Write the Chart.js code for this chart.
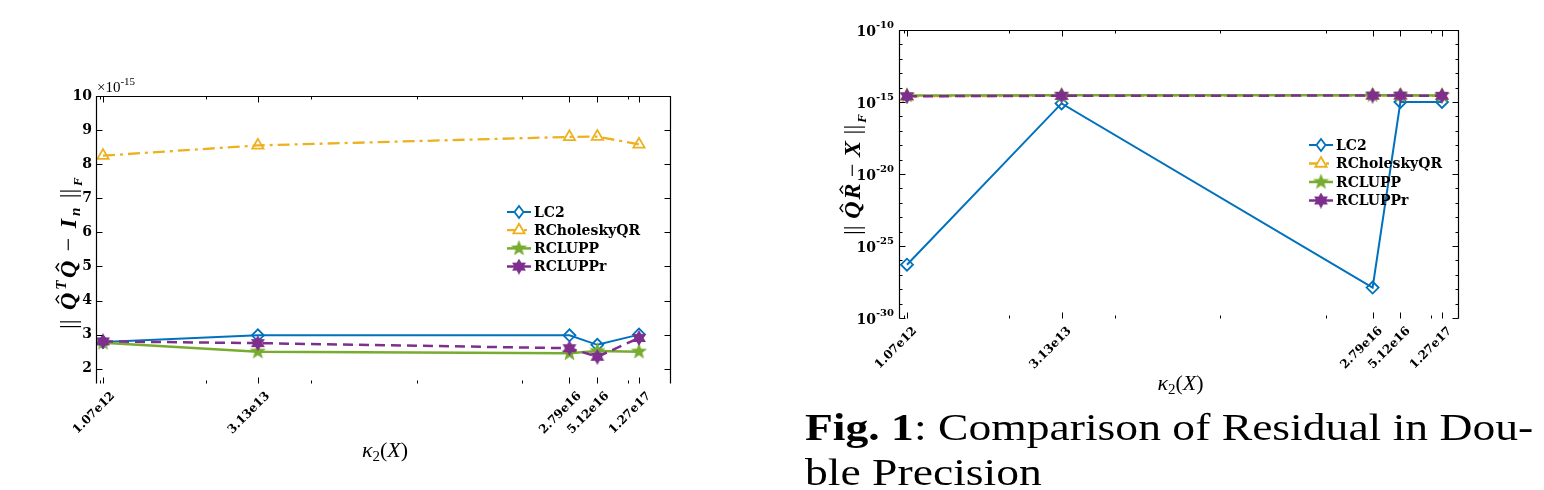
<!DOCTYPE html>
<html>
<head>
<meta charset="utf-8">
<script src="https://cdn.jsdelivr.net/npm/chart.js@4/dist/chart.umd.min.js"></script>
<style>
body{margin:0;background:#fff;width:1544px;height:490px;overflow:hidden;position:relative}
#c1{position:absolute;left:0;top:0}
#c2{position:absolute;left:780px;top:0}
#cap{position:absolute;left:805px;top:405px;font-family:'Liberation Serif',serif;font-size:38px;line-height:45px;color:#000;white-space:nowrap;transform:scaleX(1.2);transform-origin:0 0}
</style>
</head>
<body>
<canvas id="c1" width="770" height="490"></canvas>
<canvas id="c2" width="764" height="490"></canvas>
<div id="cap"><b>Fig. 1</b>: Comparison of Residual in Dou-<br>ble Precision</div>
<script>
// condition numbers kappa_2(X)
const kappa = [1.07e12, 3.13e13, 2.79e16, 5.12e16, 1.27e17];
const kappaLabels = ['1.07e12', '3.13e13', '2.79e16', '5.12e16', '1.27e17'];

// orthogonality ||Q^T Q - I||_F  (x 1e-15)
const orthLC2 = [2.78, 2.98, 2.98, 2.70, 3.00];
const orthRChol = [8.25, 8.55, 8.80, 8.81, 8.58];
const orthRCLUPP = [2.76, 2.50, 2.45, 2.52, 2.50];
const orthRCLUPPr = [2.80, 2.75, 2.60, 2.35, 2.90];
const orthTicks = [2, 3, 4, 5, 6, 7, 8, 9, 10];

// residual ||QR - X||_F
const resLC2 = [5e-27, 8e-16, 1.3e-28, 1e-15, 1e-15];
const resRChol = [2.5e-15, 2.7e-15, 2.8e-15, 2.8e-15, 2.7e-15];
const resRCLUPP = [2.8e-15, 3.0e-15, 3.0e-15, 2.9e-15, 2.8e-15];
const resRCLUPPr = [2.5e-15, 2.7e-15, 2.8e-15, 2.8e-15, 2.7e-15];
const resTicks = [1e-30, 1e-25, 1e-20, 1e-15, 1e-10];

const blue = '#0072BD', orange = '#EDB120', green = '#77AC30', purple = '#7E2F8E';

function starImage(n, inner, color, size) {
  const c = document.createElement('canvas');
  c.width = c.height = size;
  const g = c.getContext('2d');
  const R = size / 2;
  g.beginPath();
  for (let i = 0; i < 2 * n; i++) {
    const a = -Math.PI / 2 + i * Math.PI / n;
    const rr = i % 2 ? R * inner : R;
    g.lineTo(R + rr * Math.cos(a), R + rr * Math.sin(a));
  }
  g.closePath();
  g.fillStyle = color;
  g.fill();
  return c;
}
const starG = starImage(5, 0.42, green, 17);
const starP = starImage(6, 0.58, purple, 16);

function pts(arr) {
  return kappa.map((k, i) => ({x: k, y: arr[i]}));
}

function makeSets(a, b, c, d) {
  return [
    {label: 'LC2', data: pts(a), borderColor: blue, backgroundColor: 'rgba(255,255,255,0)',
      borderWidth: 2, pointStyle: 'rectRot', pointRadius: 6, pointBorderWidth: 1.8, order: 4},
    {label: 'RCholeskyQR', data: pts(b), borderColor: orange, backgroundColor: 'rgba(255,255,255,0)',
      borderDash: [12, 5, 3, 5], borderWidth: 2.3, pointStyle: 'triangle', pointRadius: 6.5, pointBorderWidth: 1.8, order: 3},
    {label: 'RCLUPP', data: pts(c), borderColor: green, backgroundColor: green,
      borderWidth: 2.5, pointStyle: starG, order: 2},
    {label: 'RCLUPPr', data: pts(d), borderColor: purple, backgroundColor: purple,
      borderDash: [10, 6], borderWidth: 2.5, pointStyle: starP, order: 1}
  ];
}

// draws a row of text pieces centred on (cx, cy); spare length goes between pieces
function drawRich(ctx, segs, cx, cy, rot, len) {
  ctx.save();
  ctx.translate(cx, cy);
  ctx.rotate(rot);
  let w = 0;
  segs.forEach(s => { ctx.font = s.f; s.w = ctx.measureText(s.t).width; w += s.w; });
  const gap = len && len > w ? (len - w) / (segs.length - 1) : 0;
  let x = -(w + gap * (segs.length - 1)) / 2;
  ctx.fillStyle = '#000';
  ctx.strokeStyle = '#000';
  ctx.textBaseline = 'alphabetic';
  ctx.textAlign = 'left';
  segs.forEach(s => {
    ctx.font = s.f;
    ctx.fillText(s.t, x, s.dy || 0);
    if (s.hat) {
      const hx = x + s.w / 2 + 2, hy = -s.hat;
      ctx.lineWidth = 1.4;
      ctx.beginPath();
      ctx.moveTo(hx - 4, hy + 3); ctx.lineTo(hx, hy); ctx.lineTo(hx + 4, hy + 3);
      ctx.stroke();
    }
    x += s.w + (s.tight ? gap * 0.3 : gap);
  });
  ctx.restore();
}

function drawMarker(ctx, ds, x, y) {
  const st = ds.pointStyle;
  ctx.save();
  ctx.setLineDash([]);
  ctx.strokeStyle = ds.borderColor;
  ctx.lineWidth = ds.pointBorderWidth || 1.8;
  if (st === 'rectRot') {
    const r = ds.pointRadius;
    ctx.fillStyle = '#fff';
    ctx.beginPath();
    ctx.moveTo(x, y - r); ctx.lineTo(x + r * 0.75, y); ctx.lineTo(x, y + r); ctx.lineTo(x - r * 0.75, y);
    ctx.closePath(); ctx.fill(); ctx.stroke();
  } else if (st === 'triangle') {
    const r = ds.pointRadius;
    ctx.fillStyle = '#fff';
    ctx.beginPath();
    ctx.moveTo(x, y - r); ctx.lineTo(x + r * 0.87, y + r * 0.5); ctx.lineTo(x - r * 0.87, y + r * 0.5);
    ctx.closePath(); ctx.fill(); ctx.stroke();
  } else {
    ctx.drawImage(st, x - st.width / 2, y - st.height / 2);
  }
  ctx.restore();
}

const serif = "'Liberation Serif', serif";
const tickFont = "bold 14px 'DejaVu Serif', serif";
const expFont = "bold 10px 'DejaVu Serif', serif";

const framePlugin = {
  id: 'frame',
  afterDraw(chart, args, o) {
    const ctx = chart.ctx, a = chart.chartArea;
    const xs = chart.scales.x, ys = chart.scales.y;
    const L = Math.round(a.left) + 0.5, R = Math.round(a.right) + 0.5;
    const T = Math.round(a.top) + 0.5, B = Math.round(a.bottom) + 0.5;
    ctx.save();
    ctx.strokeStyle = '#000';
    ctx.lineWidth = 1.2;
    ctx.beginPath();
    ctx.moveTo(L, B); ctx.lineTo(L, T); ctx.lineTo(R, T); ctx.lineTo(R, B);
    ctx.stroke();
    ctx.lineWidth = 1;
    ctx.beginPath();
    kappa.forEach(v => {
      const px = Math.round(xs.getPixelForValue(v)) + 0.5;
      ctx.moveTo(px, T); ctx.lineTo(px, T + 6);
      ctx.moveTo(px, B); ctx.lineTo(px, B - 6);
    });
    o.xMinor.forEach(v => {
      const px = Math.round(xs.getPixelForValue(v)) + 0.5;
      ctx.moveTo(px, T); ctx.lineTo(px, T + 3);
      ctx.moveTo(px, B); ctx.lineTo(px, B - 3);
    });
    o.yTicks.forEach(v => {
      const py = Math.round(ys.getPixelForValue(v)) + 0.5;
      ctx.moveTo(L, py); ctx.lineTo(L + 6, py);
      ctx.moveTo(R, py); ctx.lineTo(R - 6, py);
    });
    (o.yMinor || []).forEach(v => {
      const py = Math.round(ys.getPixelForValue(v)) + 0.5;
      ctx.moveTo(L, py); ctx.lineTo(L + 3, py);
      ctx.moveTo(R, py); ctx.lineTo(R - 3, py);
    });
    ctx.stroke();

    // power-of-ten tick labels
    ctx.fillStyle = '#000';
    ctx.textAlign = 'left';
    ctx.textBaseline = 'alphabetic';
    if (o.logLabels) {
      o.yTicks.forEach(v => {
        const py = ys.getPixelForValue(v);
        const ex = String(Math.round(Math.log10(v)));
        ctx.font = expFont;
        const ew = ctx.measureText(ex).width;
        ctx.font = tickFont;
        const bw = ctx.measureText('10').width;
        const x0 = a.left - 5 - ew - bw;
        ctx.fillText('10', x0, py + 6);
        ctx.font = expFont;
        ctx.fillText(ex, x0 + bw, py - 2);
      });
    }
    if (o.multiplier) {
      ctx.font = "15px " + serif;
      ctx.fillText('\u00d710', a.left + 1, a.top - 4);
      const w = ctx.measureText('\u00d710').width;
      ctx.font = "11px " + serif;
      ctx.fillText('-15', a.left + 1 + w, a.top - 11);
    }

    // legend
    const lg = o.legend;
    chart.data.datasets.forEach((ds, i) => {
      const y = lg.y + i * lg.dy;
      ctx.save();
      ctx.strokeStyle = ds.borderColor;
      ctx.lineWidth = ds.borderWidth;
      ctx.setLineDash(ds.borderDash || []);
      ctx.beginPath();
      ctx.moveTo(lg.x, y); ctx.lineTo(lg.x + 24, y);
      ctx.stroke();
      ctx.restore();
      drawMarker(ctx, ds, lg.x + 12, y);
      ctx.fillStyle = '#000';
      ctx.font = "bold 14px 'DejaVu Serif', serif";
      ctx.textAlign = 'left';
      ctx.textBaseline = 'middle';
      ctx.fillText(ds.label, lg.x + 27, y + 1);
    });

    // axis titles
    drawRich(ctx, o.yTitle, o.yTitlePos[0], o.yTitlePos[1], -Math.PI / 2, o.yTitleLen);
    drawRich(ctx, [
      {t: '\u03ba', f: 'italic 22px ' + serif, tight: true},
      {t: '2', f: '15px ' + serif, dy: 4, tight: true},
      {t: '(', f: '22px ' + serif, tight: true},
      {t: 'X', f: 'italic 22px ' + serif, tight: true},
      {t: ')', f: '22px ' + serif}
    ], (a.left + a.right) / 2 + 2, o.xTitleY, 0, 0);
    ctx.restore();
  }
};

function makeChart(id, sets, cfg) {
  return new Chart(document.getElementById(id), {
    type: 'line',
    data: {datasets: sets},
    plugins: [framePlugin],
    options: {
      responsive: false,
      animation: false,
      events: [],
      layout: {autoPadding: false, padding: {left: 0, top: cfg.top, right: cfg.W - cfg.right, bottom: 0}},
      elements: {line: {tension: 0}},
      scales: {
        x: {
          type: 'logarithmic', min: cfg.xMin, max: cfg.xMax,
          grid: {display: false, drawTicks: false}, border: {display: false},
          afterBuildTicks: s => { s.ticks = kappa.map(v => ({value: v})); },
          afterFit: s => { s.height = cfg.H - cfg.bottom; },
          ticks: {
            autoSkip: false, minRotation: 45, maxRotation: 45, padding: 6, labelOffset: cfg.labelOffset,
            color: '#000', font: {family: "'DejaVu Serif', serif", weight: 'bold', size: 12},
            callback: (v, i) => kappaLabels[i]
          }
        },
        y: {
          type: cfg.yType, min: cfg.yMin, max: cfg.yMax,
          grid: {display: false, drawTicks: false}, border: {display: false},
          afterBuildTicks: s => { s.ticks = cfg.yTicks.map(v => ({value: v})); },
          afterFit: s => { s.width = cfg.left; },
          ticks: {
            display: cfg.yType === 'linear', padding: 4, color: '#000',
            font: {family: "'DejaVu Serif', serif", weight: 'bold', size: 14}
          }
        }
      },
      plugins: {
        legend: {display: false},
        tooltip: {enabled: false},
        frame: cfg.frame
      }
    }
  });
}

const bi = 'bold italic 24px ' + serif;
makeChart('c1', makeSets(orthLC2, orthRChol, orthRCLUPP, orthRCLUPPr), {
  W: 770, H: 490, left: 96, right: 670, top: 96, bottom: 383, labelOffset: 10,
  xMin: 9.185e11, xMax: 2.497e17, yType: 'linear', yMin: 1.58, yMax: 10, yTicks: orthTicks,
  frame: {
    yTicks: orthTicks, xMinor: [1e12, 1e13, 1e14, 1e15, 1e16, 1e17],
    multiplier: true, logLabels: false,
    legend: {x: 507, y: 212, dy: 18.2},
    yTitle: [
      {t: '||', f: '24px ' + serif},
      {t: 'Q', f: bi, hat: 20, tight: true},
      {t: 'T', f: 'bold italic 15px ' + serif, dy: -10, tight: true},
      {t: 'Q', f: bi, hat: 20},
      {t: '\u2212', f: '24px ' + serif},
      {t: 'I', f: bi, tight: true},
      {t: 'n', f: 'bold italic 15px ' + serif, dy: 4},
      {t: '||', f: '24px ' + serif, tight: true},
      {t: 'F', f: 'bold italic 13px ' + serif, dy: 6}
    ],
    yTitlePos: [76, 240], yTitleLen: 178, xTitleY: 457
  }
});

makeChart('c2', makeSets(resLC2, resRChol, resRCLUPP, resRCLUPPr), {
  W: 764, H: 490, left: 119, right: 678, top: 30, bottom: 318, labelOffset: 8,
  xMin: 8.988e11, xMax: 1.801e17, yType: 'logarithmic', yMin: 1e-30, yMax: 1e-10,
  yTicks: resTicks,
  frame: {
    yTicks: resTicks, xMinor: [1e12, 1e13, 1e14, 1e15, 1e16, 1e17],
    yMinor: [1e-29, 1e-28, 1e-27, 1e-26, 1e-24, 1e-23, 1e-22, 1e-21, 1e-19, 1e-18, 1e-17, 1e-16, 1e-14, 1e-13, 1e-12, 1e-11],
    multiplier: false, logLabels: true,
    legend: {x: 529, y: 145, dy: 18.5},
    yTitle: [
      {t: '||', f: '24px ' + serif},
      {t: 'Q', f: bi, hat: 20, tight: true},
      {t: 'R', f: bi, hat: 20},
      {t: '\u2212', f: '24px ' + serif},
      {t: 'X', f: bi},
      {t: '||', f: '24px ' + serif, tight: true},
      {t: 'F', f: 'bold italic 13px ' + serif, dy: 6}
    ],
    yTitlePos: [80, 170], yTitleLen: 130, xTitleY: 390
  }
});
</script>
</body>
</html>
